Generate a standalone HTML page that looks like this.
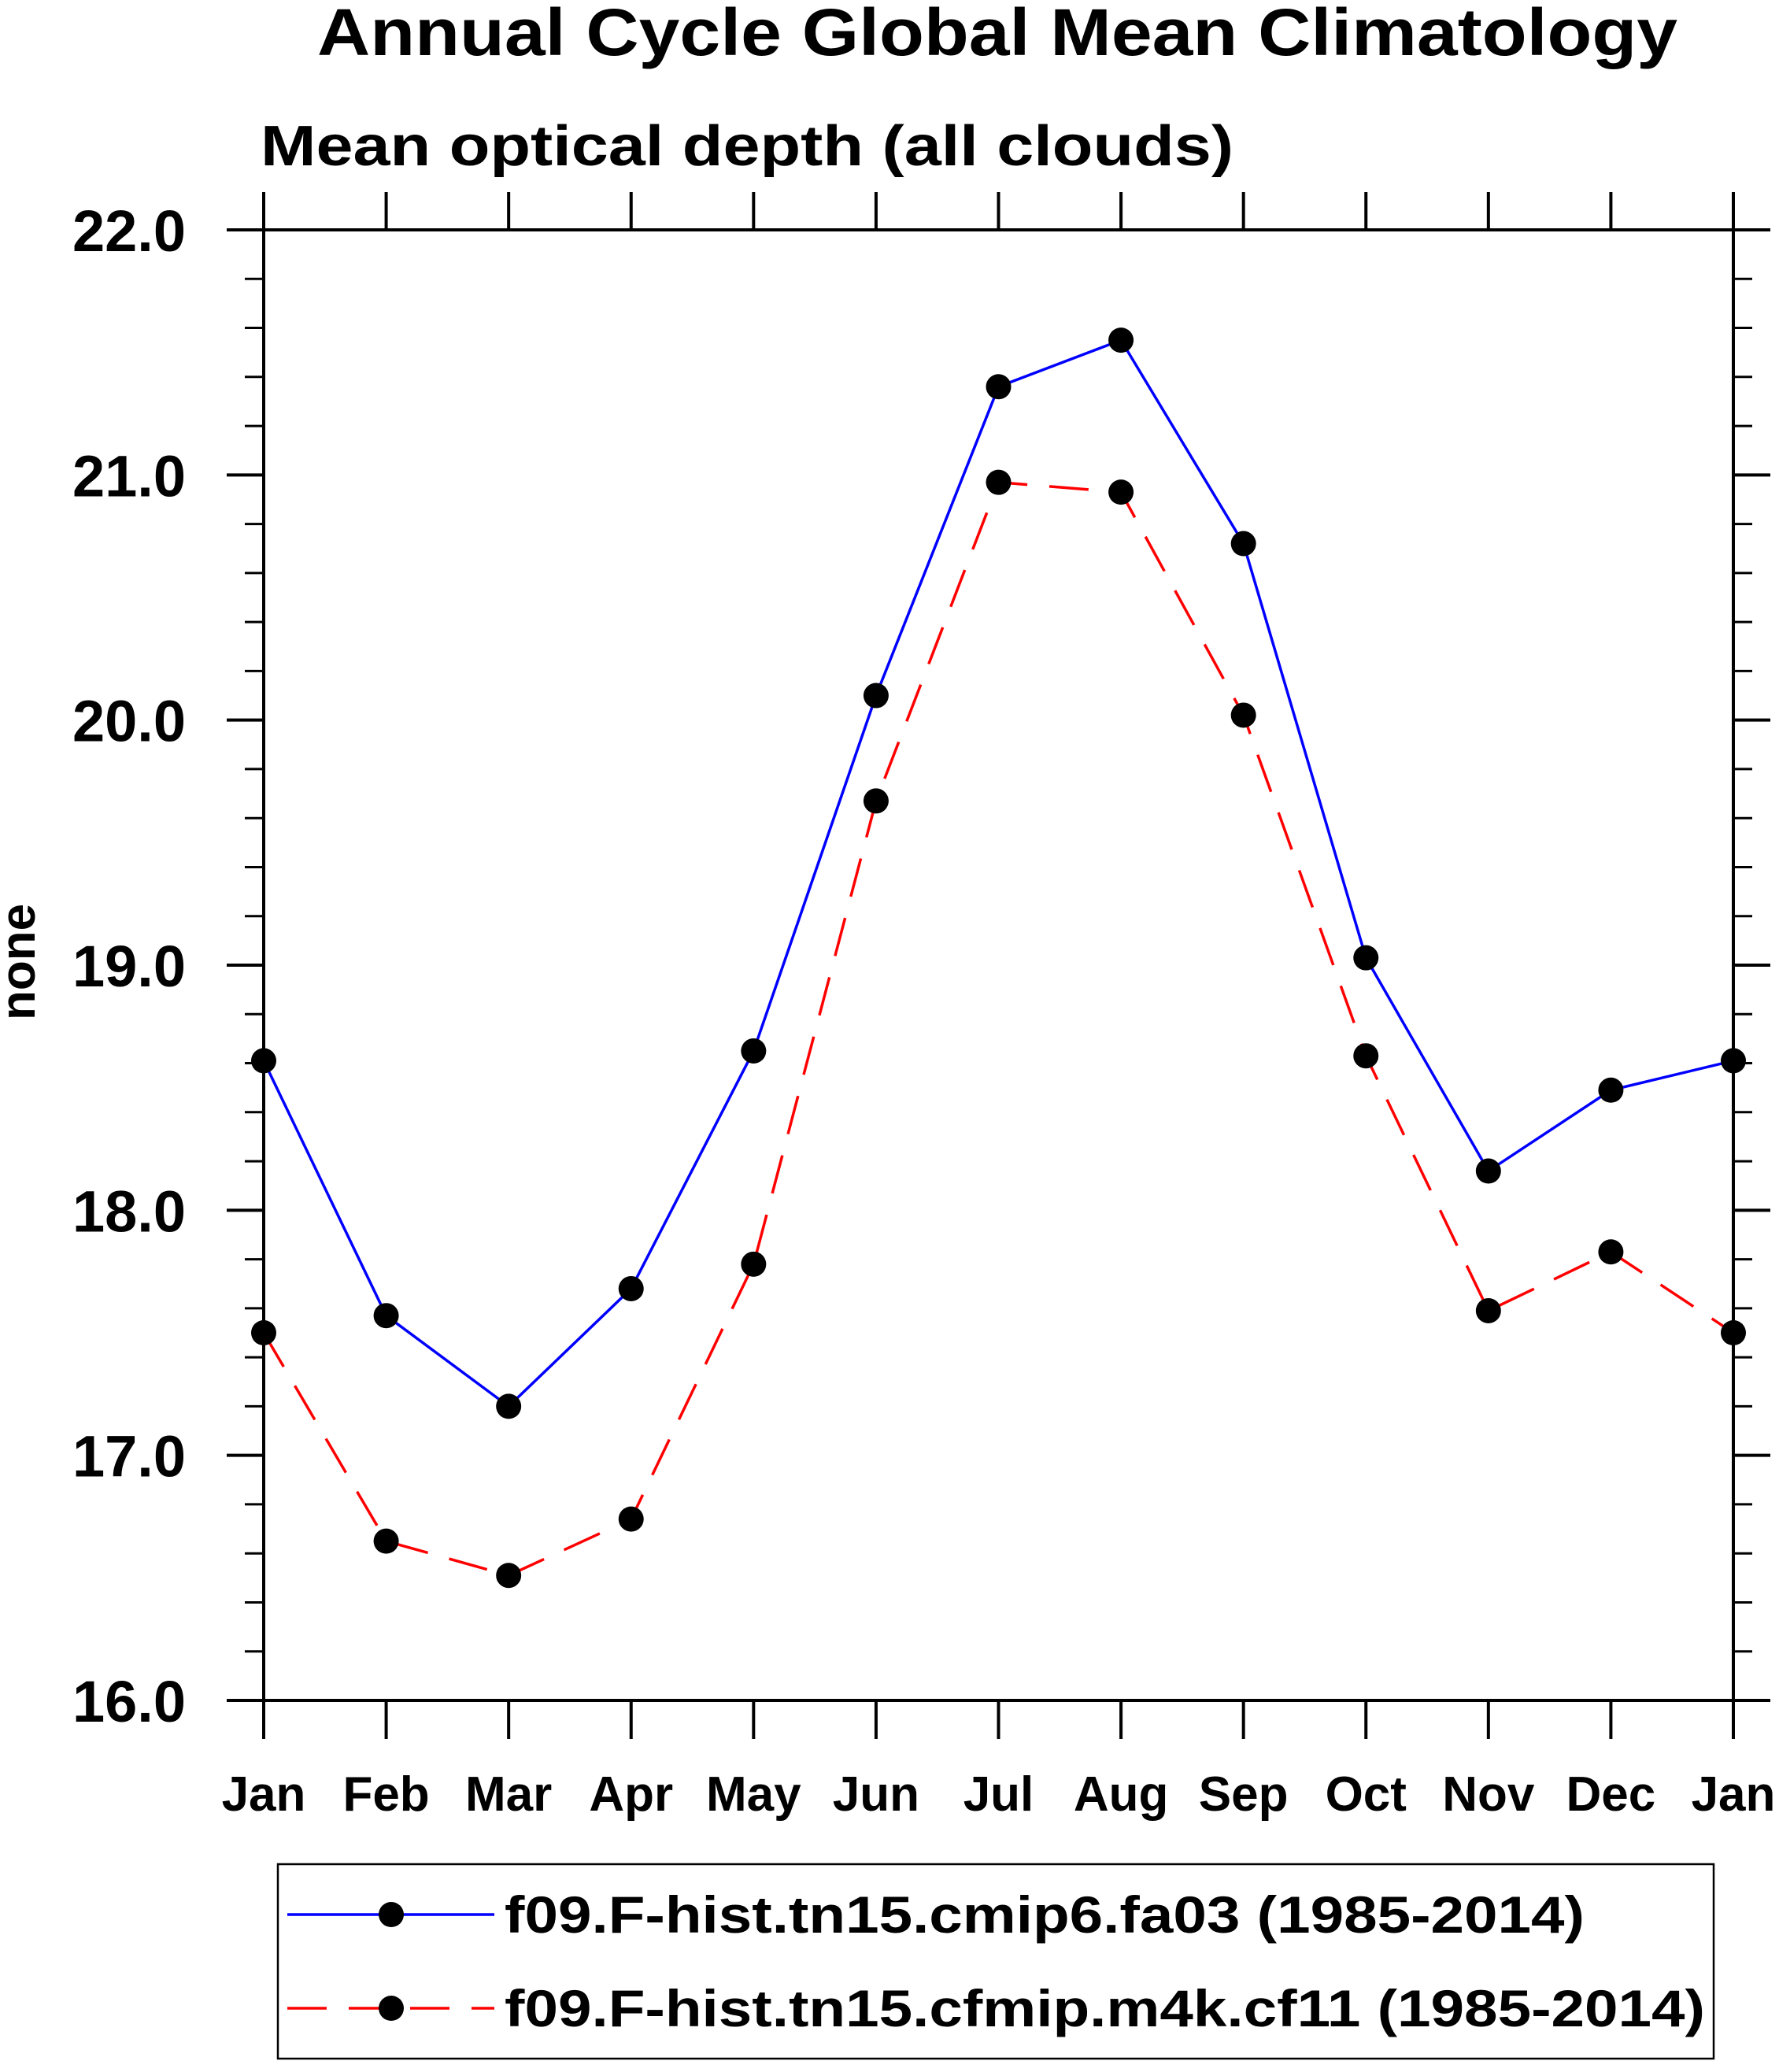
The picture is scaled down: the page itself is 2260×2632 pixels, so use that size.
<!DOCTYPE html>
<html><head><meta charset="utf-8"><style>body{margin:0;background:#fff}svg{display:block}text{font-family:"Liberation Sans",Arial,sans-serif;font-weight:bold;fill:#000}</style></head>
<body>
<svg id="chart" width="2260" height="2632" viewBox="0 0 2260 2632" xmlns="http://www.w3.org/2000/svg">
<text x="1267" y="70" font-size="84" text-anchor="middle" textLength="1728" lengthAdjust="spacingAndGlyphs">Annual Cycle Global Mean Climatology</text>
<text x="331" y="210" font-size="72" textLength="1236" lengthAdjust="spacingAndGlyphs">Mean optical depth (all clouds)</text>
<text transform="translate(44,1222) rotate(-90)" font-size="62" text-anchor="middle">none</text>
<g id="axes"></g>
<g id="series"></g>
<g>
<rect x="353" y="2368" width="1824" height="247" fill="none" stroke="#000" stroke-width="2.5"/>
<line x1="365" y1="2432" x2="628" y2="2432" stroke="#0000ff" stroke-width="3.5"/>
<circle cx="497" cy="2432" r="16" fill="#000"/>
<text x="641" y="2455" font-size="66" textLength="1372" lengthAdjust="spacingAndGlyphs">f09.F-hist.tn15.cmip6.fa03 (1985-2014)</text>
<line x1="365" y1="2551" x2="628" y2="2551" stroke="#ff0000" stroke-width="3.5" stroke-dasharray="50,28"/>
<circle cx="497" cy="2551" r="16" fill="#000"/>
<text x="641" y="2574" font-size="66" textLength="1525" lengthAdjust="spacingAndGlyphs">f09.F-hist.tn15.cfmip.m4k.cf11 (1985-2014)</text>
</g>
</svg>
<script>
const months = ["Jan","Feb","Mar","Apr","May","Jun","Jul","Aug","Sep","Oct","Nov","Dec","Jan"];
const fa03 = [18.61,17.57,17.20,17.68,18.65,20.10,21.36,21.55,20.72,19.03,18.16,18.49,18.61];
const cf11 = [17.50,16.65,16.51,16.74,17.78,19.67,20.97,20.93,20.02,18.63,17.59,17.83,17.50];
const yTicks = [16,17,18,19,20,21,22];
const yTickLabels = ["16.0","17.0","18.0","19.0","20.0","21.0","22.0"];

const NS="http://www.w3.org/2000/svg";
const L=335,R=2202,T=292,B=2160,yMin=16,yMax=22;
const xs=i=>L+(R-L)*i/(months.length-1);
const ys=v=>B-(v-yMin)/(yMax-yMin)*(B-T);
function mk(tag,attrs,parent){const e=document.createElementNS(NS,tag);for(const k in attrs)e.setAttribute(k,attrs[k]);parent.appendChild(e);return e;}
const axes=document.getElementById('axes'),ser=document.getElementById('series');
let e=mk('rect',{x:L,y:T,width:R-L,height:B-T,fill:'none',stroke:'#000','stroke-width':4},axes);


for(let v=yMin;v<=yMax+1e-9;v+=0.2){
  const major=Math.abs(v-Math.round(v))<1e-6, len=major?47:24, y=ys(v);
  e=mk('line',{x1:L-len,y1:y,x2:L,y2:y,stroke:'#000','stroke-width':major?4:3},axes);
  
  
  e=mk('line',{x1:R,y1:y,x2:R+len,y2:y,stroke:'#000','stroke-width':major?4:3},axes);
  
  
}
yTicks.forEach((v,i)=>{
  e=mk('text',{x:236,y:ys(v)+27,'font-size':74,'text-anchor':'end'},axes);
  e.textContent=yTickLabels[i];
  
  
});
months.forEach((m,i)=>{
  const x=xs(i);
  e=mk('line',{x1:x,y1:B,x2:x,y2:B+49,stroke:'#000','stroke-width':4},axes);
  
  
  e=mk('line',{x1:x,y1:T-48,x2:x,y2:T,stroke:'#000','stroke-width':4},axes);
  
  
  e=mk('text',{x:x,y:2300,'font-size':62,'text-anchor':'middle'},axes);
  e.textContent=m;
  
  
});
function drawSeries(vals,color,dash,name){
  const pts=vals.map((v,i)=>xs(i)+','+ys(v)).join(' ');
  const a={points:pts,fill:'none',stroke:color,'stroke-width':3.5};
  if(dash)a['stroke-dasharray']=dash;
  e=mk('polyline',a,ser);
  
  
  vals.forEach((v,i)=>{
    e=mk('circle',{cx:xs(i),cy:ys(v),r:16,fill:'#000'},ser);
    
    
  });
}
drawSeries(fa03,'#0000ff',null,'fa03');
drawSeries(cf11,'#ff0000','50,28','cf11');
</script>
</body></html>
